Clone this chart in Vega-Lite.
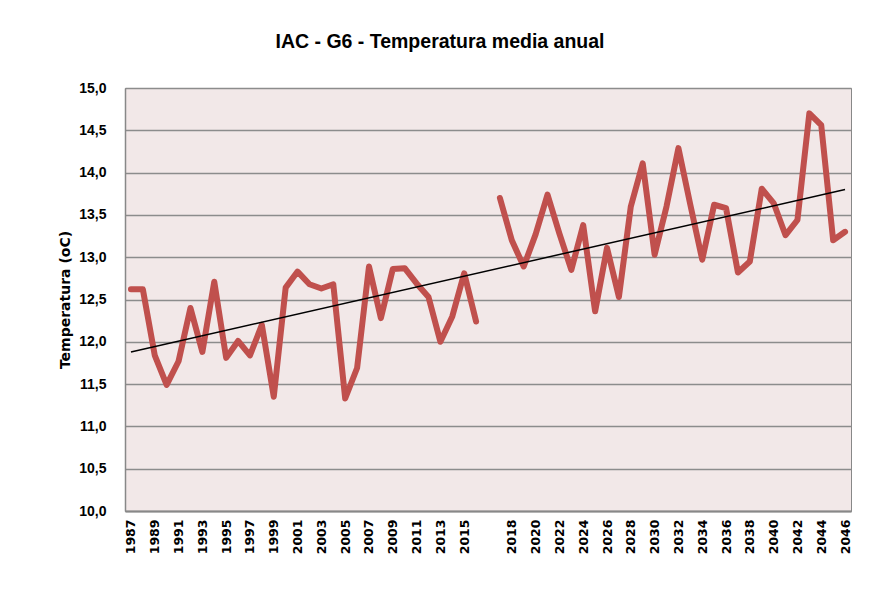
{
  "$schema": "https://vega.github.io/schema/vega-lite/v6.json",
  "width": 726,
  "height": 423,
  "autosize": "none",
  "padding": {"left": 125, "top": 88, "right": 31, "bottom": 93},
  "background": "#ffffff",
  "title": {
    "text": "IAC - G6 - Temperatura media anual",
    "font": "Liberation Sans",
    "fontSize": 19.5,
    "fontWeight": "bold",
    "color": "#000000",
    "anchor": "middle",
    "frame": "group",
    "dx": -48,
    "baseline": "alphabetic",
    "offset": 14
  },
  "config": {
    "view": {"fill": "#F2E8E8", "stroke": "#888888", "strokeWidth": 1}
  },
  "datasets": {
    "temp": [
      {"year": "1987", "temp": 12.62},
      {"year": "1988", "temp": 12.62},
      {"year": "1989", "temp": 11.84},
      {"year": "1990", "temp": 11.49},
      {"year": "1991", "temp": 11.77},
      {"year": "1992", "temp": 12.40},
      {"year": "1993", "temp": 11.88},
      {"year": "1994", "temp": 12.71},
      {"year": "1995", "temp": 11.81},
      {"year": "1996", "temp": 12.01},
      {"year": "1997", "temp": 11.84},
      {"year": "1998", "temp": 12.20},
      {"year": "1999", "temp": 11.35},
      {"year": "2000", "temp": 12.64},
      {"year": "2001", "temp": 12.83},
      {"year": "2002", "temp": 12.68},
      {"year": "2003", "temp": 12.63},
      {"year": "2004", "temp": 12.68},
      {"year": "2005", "temp": 11.33},
      {"year": "2006", "temp": 11.69},
      {"year": "2007", "temp": 12.89},
      {"year": "2008", "temp": 12.28},
      {"year": "2009", "temp": 12.86},
      {"year": "2010", "temp": 12.87},
      {"year": "2011", "temp": 12.69},
      {"year": "2012", "temp": 12.53},
      {"year": "2013", "temp": 12.00},
      {"year": "2014", "temp": 12.30},
      {"year": "2015", "temp": 12.81},
      {"year": "2016", "temp": 12.24},
      {"year": "2016b", "temp": null},
      {"year": "2017", "temp": 13.70},
      {"year": "2018", "temp": 13.20},
      {"year": "2019", "temp": 12.89},
      {"year": "2020", "temp": 13.27},
      {"year": "2021", "temp": 13.74},
      {"year": "2022", "temp": 13.28},
      {"year": "2023", "temp": 12.85},
      {"year": "2024", "temp": 13.38},
      {"year": "2025", "temp": 12.36},
      {"year": "2026", "temp": 13.11},
      {"year": "2027", "temp": 12.53},
      {"year": "2028", "temp": 13.60},
      {"year": "2029", "temp": 14.11},
      {"year": "2030", "temp": 13.03},
      {"year": "2031", "temp": 13.60},
      {"year": "2032", "temp": 14.29},
      {"year": "2033", "temp": 13.62},
      {"year": "2034", "temp": 12.97},
      {"year": "2035", "temp": 13.62},
      {"year": "2036", "temp": 13.58},
      {"year": "2037", "temp": 12.82},
      {"year": "2038", "temp": 12.95},
      {"year": "2039", "temp": 13.81},
      {"year": "2040", "temp": 13.64},
      {"year": "2041", "temp": 13.26},
      {"year": "2042", "temp": 13.44},
      {"year": "2043", "temp": 14.70},
      {"year": "2044", "temp": 14.56},
      {"year": "2045", "temp": 13.20},
      {"year": "2046", "temp": 13.30}
    ],
    "trend": [
      {"year": "1987", "trend": 11.88},
      {"year": "2046", "trend": 13.80}
    ]
  },
  "encoding": {
    "x": {
      "field": "year",
      "type": "ordinal",
      "scale": {
        "type": "point",
        "padding": 0.5,
        "domain": ["1987","1988","1989","1990","1991","1992","1993","1994","1995","1996","1997","1998","1999","2000","2001","2002","2003","2004","2005","2006","2007","2008","2009","2010","2011","2012","2013","2014","2015","2016","2016b","2017","2018","2019","2020","2021","2022","2023","2024","2025","2026","2027","2028","2029","2030","2031","2032","2033","2034","2035","2036","2037","2038","2039","2040","2041","2042","2043","2044","2045","2046"]
      },
      "axis": {
        "title": null,
        "values": ["1987","1989","1991","1993","1995","1997","1999","2001","2003","2005","2007","2009","2011","2013","2015","2018","2020","2022","2024","2026","2028","2030","2032","2034","2036","2038","2040","2042","2044","2046"],
        "labelAngle": -90,
        "labelAlign": "right",
        "labelBaseline": "middle",
        "labelFont": "DejaVu Sans",
        "labelFontSize": 12.5,
        "labelFontWeight": "bold",
        "labelColor": "#000000",
        "labelPadding": 8,
        "ticks": false,
        "grid": false,
        "domainColor": "#888888",
        "domainWidth": 2,
        "labelOverlap": false
      }
    }
  },
  "layer": [
    {
      "data": {"name": "temp"},
      "mark": {
        "type": "line",
        "color": "#C0504D",
        "strokeWidth": 6,
        "strokeJoin": "round",
        "strokeCap": "round",
        "invalid": "break-paths-show-domains"
      },
      "encoding": {
        "y": {
          "field": "temp",
          "type": "quantitative",
          "scale": {"domain": [10, 15], "nice": false, "zero": false},
          "axis": {
            "title": "Temperatura (oC)",
            "titleFont": "DejaVu Sans",
            "titleFontSize": 14,
            "titleFontWeight": "bold",
            "titleColor": "#000000",
            "titlePadding": 6,
            "values": [10, 10.5, 11, 11.5, 12, 12.5, 13, 13.5, 14, 14.5, 15],
            "labelExpr": "replace(format(datum.value, '.1f'), '.', ',')",
            "labelFont": "Liberation Sans",
            "labelFontSize": 14,
            "labelFontWeight": "bold",
            "labelColor": "#000000",
            "labelPadding": 19,
            "ticks": false,
            "grid": true,
            "gridColor": "#8C8C8C",
            "gridWidth": 1.3,
            "domainColor": "#888888",
            "domainWidth": 1.5
          }
        }
      }
    },
    {
      "data": {"name": "trend"},
      "mark": {"type": "line", "color": "#000000", "strokeWidth": 1.5},
      "encoding": {
        "y": {"field": "trend", "type": "quantitative"}
      }
    }
  ]
}
